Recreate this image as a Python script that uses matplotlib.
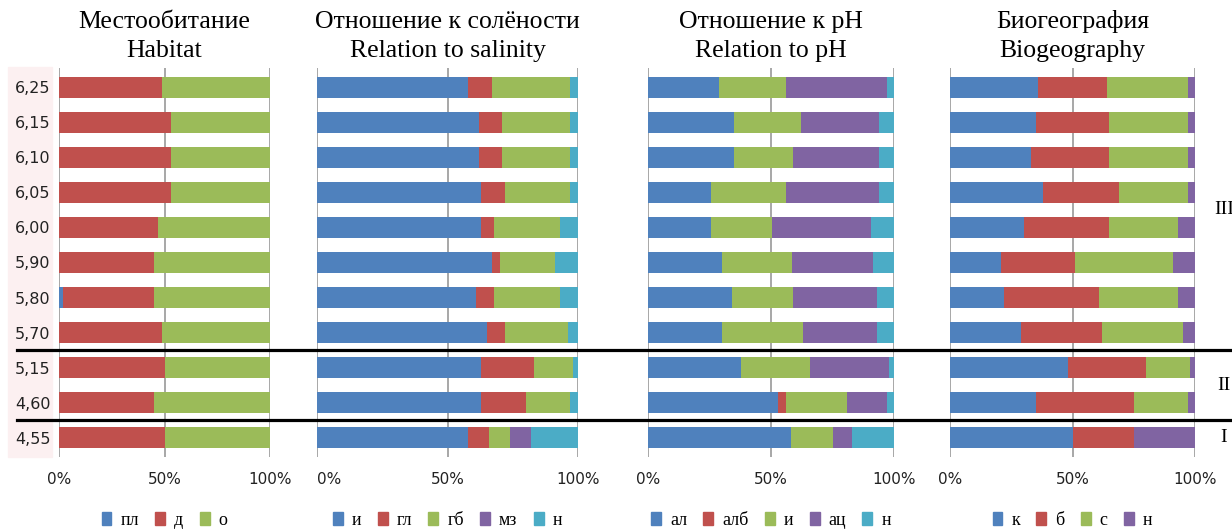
import matplotlib
matplotlib.use('Agg')
import matplotlib.pyplot as plt
from matplotlib.lines import Line2D
from matplotlib.patches import Rectangle, Patch

# pH levels of the lakes (rows, top to bottom) and zone of each row
ph_levels = ['6,25', '6,15', '6,10', '6,05', '6,00', '5,90', '5,80', '5,70', '5,15', '4,60', '4,55']
zones = ['III'] * 8 + ['II'] * 2 + ['I']

# Habitat
habitat_labels = ['пл', 'д', 'о']
habitat_pl = [0, 0, 0, 0, 0, 0, 2, 0, 0, 0, 0]
habitat_d = [49, 53, 53, 53, 47, 45, 43, 49, 50, 45, 50]
habitat_o = [51, 47, 47, 47, 53, 55, 55, 51, 50, 55, 50]

# Relation to salinity
salinity_labels = ['и', 'гл', 'гб', 'мз', 'н']
salinity_i = [58, 62, 62, 63, 63, 67, 61, 65, 63, 63, 58]
salinity_gl = [9, 9, 9, 9, 5, 3, 7, 7, 20, 17, 8]
salinity_gb = [30, 26, 26, 25, 25, 21, 25, 24, 15, 17, 8]
salinity_mz = [0, 0, 0, 0, 0, 0, 0, 0, 0, 0, 8]
salinity_n = [3, 3, 3, 3, 7, 9, 7, 4, 2, 3, 18]

# Relation to pH
ph_labels = ['ал', 'алб', 'и', 'ац', 'н']
ph_al = [29, 35, 35, 25.5, 25.5, 30, 34, 30, 38, 53, 58]
ph_alb = [0, 0, 0, 0, 0, 0, 0, 0, 0, 3, 0]
ph_i = [27, 27, 24, 30.5, 25, 28.5, 25, 33, 28, 25, 17]
ph_ac = [41, 32, 35, 38, 40, 33, 34, 30, 32, 16, 8]
ph_n = [3, 6, 6, 6, 9.5, 8.5, 7, 7, 2, 3, 17]

# Biogeography
bio_labels = ['к', 'б', 'с', 'н']
bio_k = [36, 35, 33, 38, 30, 21, 22, 29, 48, 35, 50]
bio_b = [28, 30, 32, 31, 35, 30, 39, 33, 32, 40, 25]
bio_s = [33, 32, 32, 28, 28, 40, 32, 33, 18, 22, 0]
bio_n = [3, 3, 3, 3, 7, 9, 7, 5, 2, 3, 25]

BLUE, RED, GREEN, PURPLE, CYAN = '#4f81bd', '#c0504d', '#9bbb59', '#8064a2', '#4bacc6'
SERIF = 'Liberation Serif'

panels = [
    ('Местообитание\nHabitat', habitat_labels, [habitat_pl, habitat_d, habitat_o],
     [BLUE, RED, GREEN], [59, 270]),
    ('Отношение к солёности\nRelation to salinity', salinity_labels,
     [salinity_i, salinity_gl, salinity_gb, salinity_mz, salinity_n],
     [BLUE, RED, GREEN, PURPLE, CYAN], [317, 578]),
    ('Отношение к pH\nRelation to pH', ph_labels, [ph_al, ph_alb, ph_i, ph_ac, ph_n],
     [BLUE, RED, GREEN, PURPLE, CYAN], [648, 894]),
    ('Биогеография\nBiogeography', bio_labels, [bio_k, bio_b, bio_s, bio_n],
     [BLUE, RED, GREEN, PURPLE], [950, 1195]),
]

W, H = 1232, 529
fig = plt.figure(figsize=(W / 100, H / 100), dpi=100)

# faint pink band behind the row labels
fig.patches.append(Rectangle((8 / W, 1 - 457 / H), 44 / W, 390 / H,
                             transform=fig.transFigure, color='#fcf0f1', zorder=-5))

top, bottom = 68, 457
ypos = list(range(len(ph_levels)))
axes = []
for k, (title, labels, series, colors, (x0, x1)) in enumerate(panels):
    ax = fig.add_axes([x0 / W, 1 - bottom / H, (x1 - x0) / W, (bottom - top) / H])
    ax.patch.set_alpha(0)
    left = [0] * len(ph_levels)
    for vals, lab, col in zip(series, labels, colors):
        ax.barh(ypos, vals, left=left, height=0.6, color=col, label=lab, zorder=2)
        left = [a + b for a, b in zip(left, vals)]
    ax.set_xlim(0, 100)
    ax.set_ylim(len(ph_levels) - 0.45, -0.55)
    ax.set_xticks([0, 50, 100])
    ax.set_xticklabels(['0%', '50%', '100%'], fontsize=11, color='#222222')
    for x in [0, 50, 100]:
        ax.axvline(x, color='#8f8f8f', lw=1.1, zorder=1)
    for s in ax.spines.values():
        s.set_visible(False)
    ax.tick_params(length=0, pad=11)
    if k == 0:
        ax.set_yticks(ypos)
        ax.set_yticklabels(ph_levels, fontsize=11.5, color='#222222')
        ax.tick_params(axis='y', pad=6)
    else:
        ax.set_yticks([])
    if k == 1:
        ax.get_xticklabels()[0].set_horizontalalignment('left')
    ax.set_title(title, family=SERIF, fontsize=18.5, linespacing=1.38, pad=8)
    handles = [Patch(color=c) for c in colors]
    ax.legend(handles, labels, loc='center', bbox_to_anchor=(0.5, -0.163), ncol=len(labels),
              frameon=False, prop={'family': SERIF, 'size': 13}, handlelength=0.55,
              handleheight=0.75, handletextpad=0.5, columnspacing=0.9)
    axes.append(ax)

# zone separators and zone labels
fig.canvas.draw()
to_fig = fig.transFigure.inverted()
for b in [i - 0.5 for i in range(1, len(zones)) if zones[i] != zones[i - 1]]:
    yf = to_fig.transform(axes[0].transData.transform((0, b)))[1]
    fig.add_artist(Line2D([17 / W, 1], [yf, yf], color='black', lw=2.3,
                          transform=fig.transFigure))
for z in dict.fromkeys(zones):
    idx = [i for i, v in enumerate(zones) if v == z]
    yc = sum(idx) / len(idx)
    yf = to_fig.transform(axes[3].transData.transform((0, yc)))[1]
    fig.text(1224 / W, yf, z, family=SERIF, fontsize=14, ha='center', va='center')

fig.savefig('out.png', dpi=100)
